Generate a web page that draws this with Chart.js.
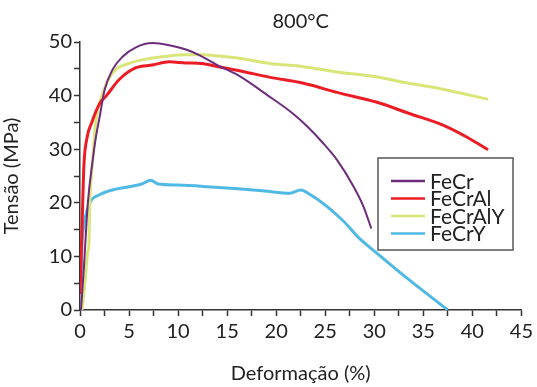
<!DOCTYPE html>
<html>
<head>
<meta charset="utf-8">
<script src="https://cdn.jsdelivr.net/npm/chart.js@4"></script>
<style>
  body { margin: 0; background: #fff; }
  #wrap { width: 537px; height: 387px; }
</style>
</head>
<body>
<div id="wrap"><canvas id="myChart"></canvas></div>
<script>
var seriesNames = ["FeCr", "FeCrAl", "FeCrAlY", "FeCrY"];
var seriesColors = ["#6e2c7c", "#ec1c24", "#d9e479", "#4fb9e3"];

var feCrX = [0.1, 0.4, 0.8, 1.3, 1.6, 2.0, 2.5, 3.3, 4.3, 5.7, 7.4, 9.1, 10.8, 12.1, 14.1, 16.1, 19.1, 21.6, 23.2, 24.7, 26.2, 27.9, 28.9, 29.7];
var feCrY = [0, 8, 20, 28, 32, 36, 41, 44.8, 47.2, 49, 49.8, 49.4, 48.6, 47.6, 45.6, 43.8, 40.1, 36.8, 34.2, 31.3, 28, 23, 19.3, 15.2];

var feCrAlX = [0, 0.2, 0.4, 0.7, 1.2, 2.0, 2.7, 4.0, 5.7, 7.4, 9.1, 10.8, 12.4, 14.1, 16.1, 19.4, 22.8, 26.2, 30.2, 33.5, 37.0, 39.6, 41.6];
var feCrAlY = [3, 15, 27, 32, 35, 38.5, 40, 43, 45.2, 45.7, 46.3, 46.1, 46, 45.4, 44.7, 43.4, 42.3, 40.6, 38.8, 36.7, 34.5, 32.1, 29.9];

var feCrAlYX = [0.2, 0.5, 0.8, 0.9, 1.0, 1.3, 1.6, 2.2, 3.3, 5.0, 7.4, 9.1, 10.8, 12.4, 14.1, 16.1, 19.4, 22.8, 26.2, 30.2, 33.5, 37.0, 41.6];
var feCrAlYY = [0, 5, 11, 12, 20, 28, 35, 39.8, 44.2, 46, 47, 47.4, 47.6, 47.6, 47.4, 47, 46, 45.4, 44.4, 43.5, 42.3, 41.2, 39.3];

var feCrYX = [0.1, 0.2, 0.5, 1.0, 2.0, 3.3, 5.0, 6.3, 7.2, 8.0, 10.0, 13.0, 16.1, 18.8, 21.4, 22.5, 23.5, 25.2, 26.9, 28.4, 30.2, 33.5, 37.5];
var feCrYY = [5, 11.8, 16.8, 20, 21.5, 22.4, 23, 23.5, 24.2, 23.5, 23.3, 23, 22.6, 22.2, 21.8, 22.4, 21.5, 19.3, 16.5, 13.5, 10.7, 5.7, 0];

var allX = [feCrX, feCrAlX, feCrAlYX, feCrYX];
var allY = [feCrY, feCrAlY, feCrAlYY, feCrYY];
var lineWidths = [2, 3, 3, 3];

var FONT = "Lato, 'Open Sans', sans-serif";
var AXIS = "#333";

function toPoints(xs, ys) {
  return xs.map(function (x, i) { return { x: x, y: ys[i] }; });
}

var datasets = seriesNames.map(function (name, i) {
  return {
    label: name,
    data: toPoints(allX[i], allY[i]),
    borderColor: seriesColors[i],
    backgroundColor: seriesColors[i],
    borderWidth: lineWidths[i],
    showLine: true,
    pointRadius: 0,
    cubicInterpolationMode: "monotone"
  };
});

// title + boxed legend drawn inside the plot
var extras = {
  id: "extras",
  afterDraw: function (chart) {
    var ctx = chart.ctx, a = chart.chartArea;
    ctx.save();
    ctx.fillStyle = "#222";
    ctx.font = "20px " + FONT;
    ctx.textAlign = "center";
    ctx.textBaseline = "middle";
    ctx.fillText("800°C", (a.left + a.right) / 2, 22);

    var bx = 378, by = 158, bw = 135, bh = 92;
    ctx.fillStyle = "#fff";
    ctx.fillRect(bx, by, bw, bh);
    ctx.strokeStyle = "#555";
    ctx.lineWidth = 1.5;
    ctx.strokeRect(bx, by, bw, bh);
    ctx.textAlign = "left";
    ctx.font = "21px " + FONT;
    chart.data.datasets.forEach(function (ds, i) {
      var y = by + 23 + i * 17.5;
      ctx.strokeStyle = ds.borderColor;
      ctx.lineWidth = 2.5;
      ctx.beginPath();
      ctx.moveTo(bx + 13, y);
      ctx.lineTo(bx + 47, y);
      ctx.stroke();
      ctx.fillStyle = "#222";
      ctx.fillText(ds.label, bx + 52, y + 1);
    });
    ctx.restore();
  }
};

new Chart("myChart", {
  type: "scatter",
  data: { datasets: datasets },
  plugins: [extras],
  options: {
    responsive: true,
    maintainAspectRatio: false,
    animation: false,
    layout: { padding: { top: 42, right: 11, left: 0, bottom: 0 } },
    plugins: {
      legend: { display: false },
      title: { display: false },
      tooltip: { enabled: false }
    },
    scales: {
      x: {
        type: "linear",
        min: 0,
        max: 45,
        afterFit: function (s) { s.height = 77; },
        border: { color: AXIS, width: 1.5 },
        grid: { drawOnChartArea: false, tickLength: 6, color: AXIS, tickWidth: 1.5 },
        ticks: {
          stepSize: 2.5,
          autoSkip: false,
          maxRotation: 0,
          padding: 4,
          color: "#222",
          font: { family: FONT, size: 20 },
          callback: function (v) { return v % 5 === 0 ? v : ""; }
        },
        title: {
          display: true,
          text: "Deformação (%)",
          color: "#222",
          font: { family: FONT, size: 20 },
          padding: { top: 0, bottom: 1 }
        }
      },
      y: {
        type: "linear",
        min: 0,
        max: 50,
        afterFit: function (s) { s.width = 80; },
        border: { color: AXIS, width: 1.5 },
        grid: { drawOnChartArea: false, tickLength: 6, color: AXIS, tickWidth: 1.5 },
        ticks: {
          stepSize: 5,
          autoSkip: false,
          padding: 2,
          color: "#222",
          font: { family: FONT, size: 20 },
          callback: function (v) { return v % 10 === 0 ? v : ""; }
        },
        title: {
          display: true,
          text: "Tensão (MPa)",
          color: "#222",
          font: { family: FONT, size: 20 },
          padding: { top: 0, bottom: 11 }
        }
      }
    }
  }
});
</script>
</body>
</html>
